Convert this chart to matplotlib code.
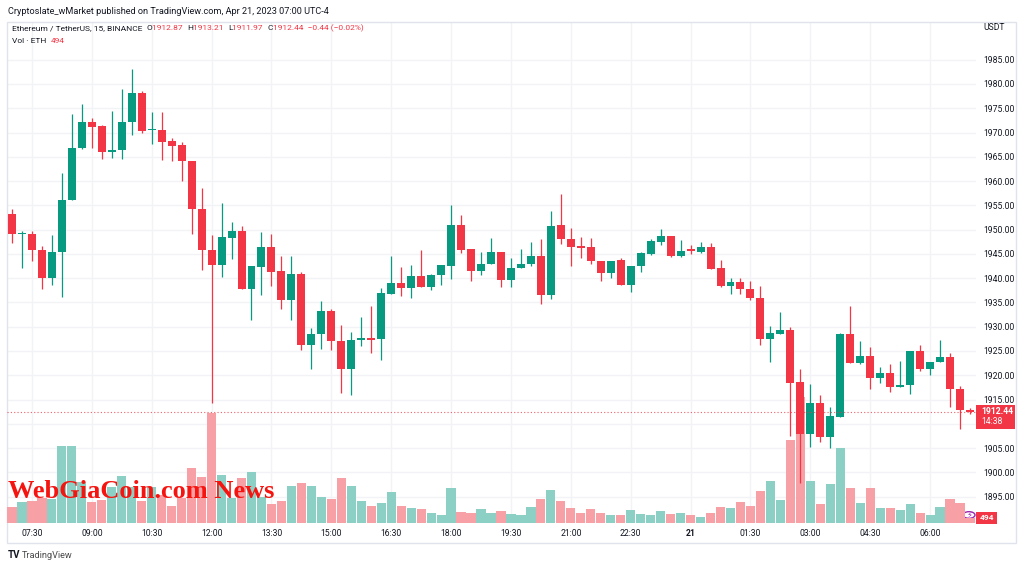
import matplotlib
matplotlib.use("Agg")
import matplotlib.pyplot as plt
from matplotlib.patches import Rectangle, Circle
import numpy as np

# ETH/USDT 15m candles, Apr 20 07:00 -> Apr 21 07:00 (UTC-4)
opens = [1953.3, 1949.0, 1949.0, 1945.9, 1940.0, 1945.3, 1956.1, 1966.8, 1972.1, 1971.3,
         1966.0, 1966.5, 1972.1, 1978.2, 1970.5, 1970.6, 1968.3, 1967.5, 1964.2, 1954.3,
         1945.9, 1942.8, 1948.3, 1949.7, 1937.7, 1942.4, 1946.5, 1941.4, 1935.6, 1940.8,
         1926.2, 1928.4, 1933.3, 1927.0, 1921.3, 1927.2, 1927.7, 1927.4, 1936.8, 1939.0,
         1938.0, 1940.4, 1938.1, 1940.6, 1942.6, 1950.9, 1946.1, 1941.5, 1943.0, 1945.4,
         1939.7, 1942.0, 1943.0, 1944.5, 1936.6, 1950.9, 1948.0, 1946.6, 1946.4, 1943.6,
         1941.1, 1943.8, 1938.6, 1942.6, 1945.0, 1947.5, 1948.7, 1944.6, 1946.0, 1945.4,
         1946.5, 1942.0, 1938.4, 1939.3, 1937.7, 1936.0, 1927.4, 1928.5, 1929.4, 1918.6,
         1907.9, 1914.3, 1907.3, 1911.4, 1928.5, 1922.5, 1924.0, 1919.5, 1920.5, 1917.6,
         1918.0, 1924.9, 1921.3, 1922.8, 1923.7, 1917.2, 1912.87]
highs = [1954.2, 1949.8, 1949.7, 1946.7, 1948.8, 1961.6, 1973.8, 1975.9, 1972.9, 1971.6,
         1974.4, 1979.0, 1983.0, 1978.5, 1974.3, 1974.3, 1968.9, 1968.0, 1964.2, 1958.6,
         1948.8, 1955.5, 1951.5, 1950.8, 1942.5, 1949.5, 1949.1, 1944.5, 1944.6, 1941.3,
         1929.8, 1935.3, 1933.6, 1930.3, 1929.0, 1932.0, 1934.3, 1937.9, 1944.5, 1942.2,
         1942.7, 1945.9, 1940.8, 1942.8, 1955.1, 1953.0, 1946.1, 1945.4, 1948.3, 1945.4,
         1944.2, 1946.1, 1947.4, 1948.0, 1953.9, 1957.3, 1950.3, 1948.4, 1948.3, 1943.6,
         1943.6, 1944.1, 1942.6, 1945.4, 1948.0, 1950.1, 1948.7, 1947.8, 1946.8, 1947.4,
         1947.3, 1943.7, 1940.1, 1940.1, 1939.5, 1938.4, 1930.1, 1933.1, 1929.9, 1921.2,
         1918.2, 1916.0, 1913.4, 1928.8, 1934.3, 1927.0, 1925.8, 1921.7, 1922.4, 1923.0,
         1924.9, 1926.3, 1922.8, 1927.2, 1924.5, 1917.8, 1913.21]
lows = [1947.3, 1942.0, 1943.6, 1937.7, 1938.6, 1936.2, 1956.0, 1966.7, 1966.9, 1964.5,
        1964.7, 1964.5, 1969.5, 1970.0, 1967.6, 1964.3, 1964.1, 1960.1, 1949.1, 1941.6,
        1914.3, 1940.3, 1944.0, 1937.7, 1931.4, 1936.6, 1938.4, 1933.6, 1931.4, 1925.1,
        1921.2, 1925.5, 1925.1, 1916.4, 1916.0, 1926.1, 1924.5, 1923.1, 1936.8, 1936.4,
        1936.0, 1938.1, 1937.5, 1938.5, 1939.8, 1945.2, 1939.5, 1940.6, 1943.0, 1938.1,
        1938.2, 1942.0, 1942.6, 1934.6, 1935.8, 1947.1, 1942.6, 1944.2, 1942.9, 1939.5,
        1940.1, 1938.6, 1937.1, 1941.3, 1944.7, 1946.9, 1944.4, 1944.4, 1944.9, 1945.2,
        1941.9, 1938.1, 1936.8, 1936.7, 1935.5, 1926.2, 1922.7, 1928.5, 1907.4, 1897.9,
        1905.3, 1906.2, 1905.1, 1911.4, 1922.5, 1922.3, 1917.1, 1918.4, 1916.6, 1917.6,
        1916.1, 1920.9, 1920.1, 1922.8, 1913.5, 1908.9, 1911.97]
closes = [1949.0, 1949.1, 1945.7, 1940.0, 1945.4, 1956.2, 1966.9, 1972.1, 1971.2, 1966.0,
          1966.5, 1972.2, 1978.1, 1970.3, 1970.6, 1968.1, 1967.3, 1964.2, 1954.2, 1945.9,
          1942.8, 1948.4, 1949.7, 1937.7, 1942.5, 1946.5, 1941.3, 1935.6, 1940.8, 1926.2,
          1928.4, 1933.3, 1927.0, 1921.3, 1927.3, 1927.6, 1927.3, 1936.9, 1939.0, 1938.0,
          1940.4, 1938.1, 1940.6, 1942.8, 1950.9, 1945.9, 1941.5, 1943.0, 1945.4, 1939.7,
          1942.0, 1943.0, 1944.5, 1936.6, 1950.7, 1948.0, 1946.5, 1946.3, 1943.6, 1941.1,
          1943.6, 1938.6, 1942.6, 1945.1, 1947.6, 1948.7, 1944.6, 1945.6, 1945.5, 1946.5,
          1941.9, 1938.4, 1939.3, 1937.7, 1936.0, 1927.4, 1928.6, 1929.4, 1918.5, 1907.9,
          1914.3, 1907.3, 1911.5, 1928.5, 1922.5, 1924.0, 1919.5, 1920.5, 1917.6, 1918.0,
          1924.9, 1921.3, 1922.8, 1923.7, 1917.2, 1912.8, 1912.44]
volumes = [1650, 2100, 2200, 2550, 2400, 7750, 7750, 4100, 2130, 2300,
           3570, 4700, 3570, 2200, 3650, 2800, 1700, 2500, 5500, 4570,
           11000, 4800, 2500, 4500, 5070, 2570, 1930, 2230, 3730, 4030,
           3730, 2630, 2370, 4500, 3700, 2170, 1730, 2000, 3130, 1730,
           1530, 1400, 1000, 770, 3530, 1100, 1030, 1400, 970, 1230,
           900, 770, 1630, 2430, 3300, 2230, 1500, 1030, 1370, 970,
           800, 800, 1300, 930, 800, 1230, 900, 1000, 800, 600,
           1030, 1600, 1530, 2100, 1730, 3200, 4170, 2300, 8300, 12600,
           4170, 1930, 3870, 7470, 3470, 1970, 3470, 1530, 1470, 1330,
           1870, 1000, 770, 1600, 2370, 2000, 494]

time_ticks = [2, 8, 14, 20, 26, 32, 38, 44, 50, 56, 62, 68, 74, 80, 86, 92]
time_labels = ["07:30", "09:00", "10:30", "12:00", "13:30", "15:00", "16:30", "18:00",
               "19:30", "21:00", "22:30", "21", "01:30", "03:00", "04:30", "06:00"]
price_ticks = list(range(1890, 1990, 5))
# labels hidden behind the last-price and volume tags
hidden_prices = [1890, 1910]

last_price = 1912.44

UP = "#089981"
DOWN = "#F23645"
UP_VOL = "#8ccfc4"
DOWN_VOL = "#f7a1a6"
TXT = "#131722"
GRID = "#f2f3f7"

plt.rcParams['font.family'] = ['Roboto', 'DejaVu Sans']

W, H = 1024, 567
fig = plt.figure(figsize=(W / 100, H / 100), dpi=100)
fig.patch.set_facecolor("white")

def px(x, y):
    return x / W, 1 - y / H

L, R, T, B = 7, 976, 22, 523
rect = [L / W, 1 - B / H, (R - L) / W, (B - T) / H]
xlim = (-0.5, 96.6)
ylim = (1889.56, 1992.77)

x = np.arange(len(opens))
o = np.array(opens)
c = np.array(closes)
up = c >= o

# background grid
ax_bg = fig.add_axes(rect, zorder=0)
ax_bg.set_xlim(xlim)
ax_bg.set_ylim(ylim)
ax_bg.set_xticks(time_ticks)
ax_bg.set_yticks(price_ticks)
ax_bg.grid(True, color=GRID, lw=1)
ax_bg.tick_params(length=0, labelbottom=False, labelleft=False)
for s in ax_bg.spines.values():
    s.set_visible(False)

# volume overlay
ax_vol = fig.add_axes(rect, zorder=1)
ax_vol.patch.set_visible(False)
ax_vol.bar(x, volumes, width=0.92, color=np.where(up, UP_VOL, DOWN_VOL))
ax_vol.set_xlim(xlim)
ax_vol.set_ylim(0, 50100)
ax_vol.axis("off")

# candles
ax = fig.add_axes(rect, zorder=2)
ax.patch.set_visible(False)
cols = np.where(up, UP, DOWN)
ax.vlines(x, lows, highs, colors=cols, lw=0.9)
body = np.maximum(np.abs(c - o), 0.2)
ax.bar(x, body, bottom=np.minimum(o, c), width=0.8, color=cols)
ax.axhline(last_price, color=DOWN, lw=0.8, ls=(0, (1, 2)), alpha=0.8)
ax.set_xlim(xlim)
ax.set_ylim(ylim)
for s in ax.spines.values():
    s.set_visible(False)
ax.yaxis.tick_right()
ax.set_yticks(price_ticks)
ax.set_yticklabels(["" if v in hidden_prices else f"{v:.2f}" for v in price_ticks])
ax.set_xticks(time_ticks)
ax.set_xticklabels(time_labels)
ax.tick_params(axis="y", length=0, pad=5.5, labelsize=6.2, labelcolor=TXT)
ax.tick_params(axis="x", length=0, pad=4.5, labelsize=6.2, labelcolor=TXT)
for lab in ax.get_xticklabels():
    if lab.get_text() == "21":
        lab.set_fontweight("bold")

# frame
fx0, fy0 = px(7, 543)
fx1, fy1 = px(1016, 22)
fig.add_artist(Rectangle((fx0, fy0), fx1 - fx0, fy1 - fy0, transform=fig.transFigure,
                         fill=False, ec="#e0e3eb", lw=1))

# header
fig.text(*px(8, 11), "Cryptoslate_wMarket published on TradingView.com, Apr 21, 2023 07:00 UTC-4",
         fontsize=6.6, color=TXT, va="center")

renderer = fig.canvas.get_renderer()

def run_text(x0, y0, parts, size=6.0):
    xx = x0
    for s, col in parts:
        t = fig.text(*px(xx, y0), s, fontsize=size, color=col, va="center")
        bb = t.get_window_extent(renderer)
        xx += bb.width

run_text(12, 28, [("Ethereum / TetherUS, 15, BINANCE  ", TXT), ("O", TXT), ("1912.87  ", DOWN),
                  ("H", TXT), ("1913.21  ", DOWN), ("L", TXT), ("1911.97  ", DOWN),
                  ("C", TXT), ("1912.44  \u22120.44 (\u22120.02%)", DOWN)])
run_text(12, 41, [("Vol \u00b7 ETH  ", TXT), ("494", DOWN)])

fig.text(*px(983, 28), "USDT", fontsize=6.2, color=TXT, va="center")

# last price label
bx, by = px(976, 429)
bx2, by2 = px(1015, 405)
fig.add_artist(Rectangle((bx, by), bx2 - bx, by2 - by, transform=fig.transFigure,
                         color=DOWN, lw=0))
fig.text(*px(981, 412), "1912.44", fontsize=6.2, color="white", va="center", fontweight="bold")
fig.text(*px(981, 421), "14:38", fontsize=6.2, color="white", va="center")

# volume label + icon
vx, vy = px(976, 524)
vx2, vy2 = px(997, 512)
fig.add_artist(Rectangle((vx, vy), vx2 - vx, vy2 - vy, transform=fig.transFigure,
                         color=DOWN, lw=0))
fig.text(*px(986.5, 518), "494", fontsize=6.0, color="white", va="center", ha="center",
         fontweight="bold")
cx, cy = px(969, 515)
fig.add_artist(Circle((cx, cy), 6 / W, transform=fig.transFigure, fc="white",
                      ec="#9c27b0", lw=1))
fig.text(cx, cy, "\u26a1", fontsize=6, color="#9c27b0", ha="center", va="center",
         family=["DejaVu Sans"])

# watermark
wm = fig.text(*px(8, 498), "WebGiaCoin.com News", fontsize=22, color="#f5140f",
              fontweight="bold", family=["Liberation Serif", "DejaVu Serif"], va="baseline")
wbb = wm.get_window_extent(renderer)
wm.set_fontsize(22 * 267 / wbb.width)

# footer
fig.text(*px(8, 555), "TV", fontsize=7, color="#131722", va="center", fontweight="bold")
fig.text(*px(22, 555), "TradingView", fontsize=6.6, color="#4a4a4a", va="center")

fig.savefig("out.png", dpi=100)
